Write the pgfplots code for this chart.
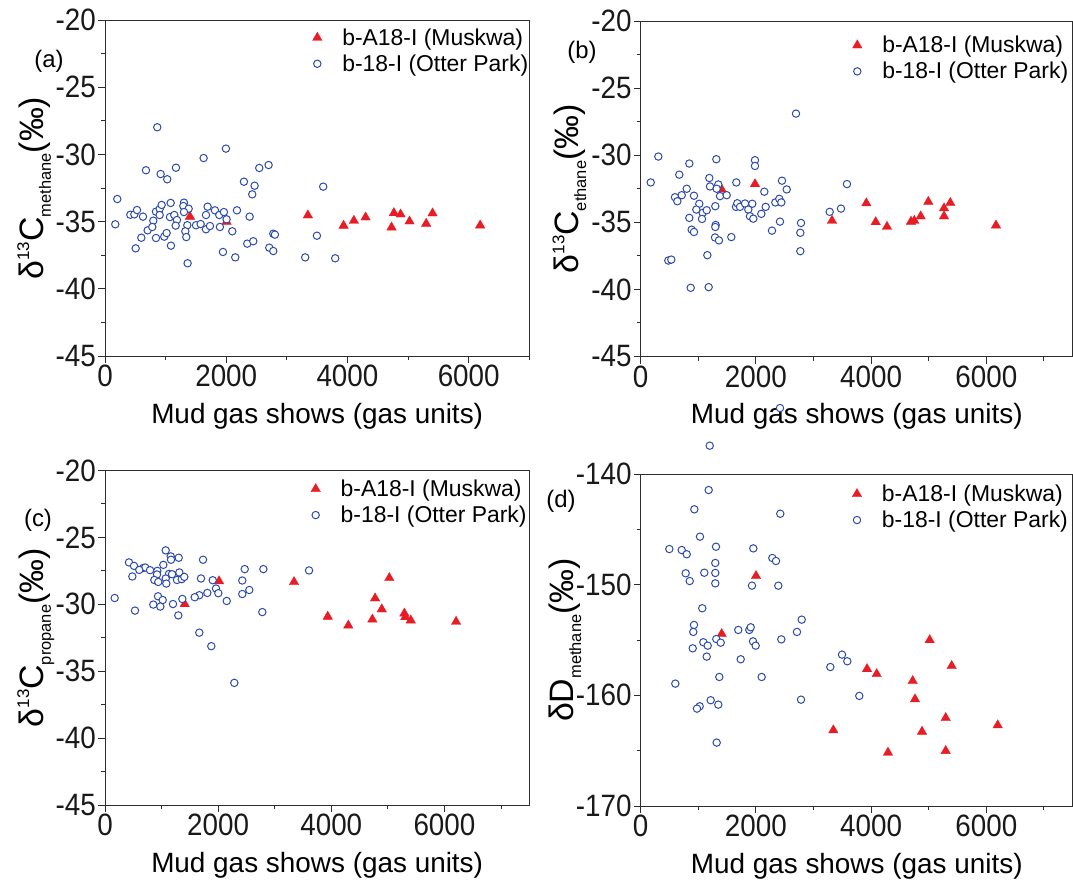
\documentclass[border=0pt]{standalone}
\usepackage{fontspec}
\setmainfont{Liberation Sans}
\newfontfamily\tickfont{Liberation Sans}[FakeStretch=0.9]
\usepackage{pgfplots}
\pgfplotsset{compat=1.18}
\definecolor{mred}{RGB}{232,28,36}
\definecolor{mblue}{RGB}{45,75,170}
\definecolor{axc}{RGB}{45,45,45}
\newcommand{\ylab}[2]{\fontsize{34}{34}\selectfont #1\raisebox{-0.22em}{\fontsize{16.5}{16.5}\selectfont #2}(‰)}
\pgfplotsset{
  panel/.style={
    scale only axis, clip=false,
    axis line style={axc, line width=1bp},
    every tick/.style={axc, line width=1bp},
    tick align=outside, tick pos=left,
    major tick length=7bp, minor tick length=4bp,
    ticklabel style={font=\tickfont\fontsize{31}{31}\selectfont, text=black!90},
    xticklabel style={inner sep=2bp},
    yticklabel style={inner sep=2bp},
    xlabel style={font=\fontsize{28}{28}\selectfont, at={(axis description cs:0.5,0)}, anchor=base, yshift=-67bp},
    xlabel={Mud gas shows (gas units)},
    xtick={0,2000,4000,6000}, xticklabels={0,2000,4000,6000},
    minor xtick={1000,3000,5000,7000},
    xmin=0,
    legend cell align=left,
    legend style={anchor=west, draw=none, fill=none, inner sep=0pt, outer sep=0pt,
      font=\fontsize{23}{23}\selectfont, row sep=8bp,
      nodes={inner sep=0bp},
      /tikz/every odd column/.style={column sep=15bp}},
    legend image code/.code={\path[draw=none,fill=none] (0bp,-6bp) rectangle (20bp,6bp);
      \draw[mark repeat=2,mark phase=2,##1] plot coordinates {(0bp,0bp)(10bp,0bp)(20bp,0bp)};},
  },
  cyax/.style={ymin=-45, ymax=-20, ytick={-45,-40,-35,-30,-25,-20},
    yticklabels={-45,-40,-35,-30,-25,-20}, minor ytick={-42.5,-37.5,-32.5,-27.5,-22.5}},
  tri/.style={only marks, mark=triangle*, mark size=5.5bp, color=mred, mark options={fill=mred, draw=mred, line width=0.3bp}},
  circ/.style={only marks, mark=*, mark size=3.7bp, color=mblue, mark options={draw=mblue, fill=white, line width=1bp}},
}
\begin{document}
\begin{tikzpicture}
\useasboundingbox (0,0) rectangle (1073bp,-884bp);
% (a)
\begin{axis}[panel, cyax, at={(105bp,-356bp)}, anchor=south west, width=424.3bp, height=336bp, xmax=7000,
  ylabel={\ylab{δ\raisebox{0.42em}{\fontsize{17}{17}\selectfont 13}C}{methane}},
  ylabel style={at={(axis description cs:-0.1454,0.5)}, anchor=base},
  legend style={at={(0.4768,0.9086)}}]
\addplot[tri] coordinates {(1402,-34.63)(2006,-35.0)(3347,-34.53)(3936,-35.3)(4106,-34.93)(4299,-34.68)(4727,-35.43)(4766,-34.36)(4876,-34.46)(5024,-34.98)(5299,-35.15)(5404,-34.38)(6189,-35.28)};
\addplot[circ] coordinates {(862,-27.98)(1995,-29.57)(1627,-30.27)(676,-31.18)(918,-31.46)(1171,-30.99)(1027,-31.85)(2545,-31.01)(2699,-30.79)(2292,-32.03)(2468,-32.33)(2429,-32.97)(3600,-32.40)(203,-33.32)(418,-34.49)(484,-34.46)(528,-34.14)(627,-34.63)(797,-34.93)(841,-34.26)(902,-34.06)(935,-33.76)(902,-34.51)(1083,-33.61)(1072,-34.66)(1143,-34.51)(1187,-34.88)(1303,-33.59)(1292,-33.84)(1380,-34.04)(1303,-34.29)(1693,-33.89)(1666,-34.51)(1814,-34.16)(1885,-34.51)(1962,-34.29)(2006,-34.83)(2177,-34.16)(2386,-34.63)(170,-35.20)(704,-35.65)(780,-35.40)(599,-36.20)(841,-36.22)(978,-36.12)(1017,-35.85)(1166,-35.30)(1358,-35.27)(1325,-35.72)(1341,-36.15)(1501,-35.27)(1578,-35.18)(1666,-35.57)(1732,-35.33)(1896,-35.40)(2100,-35.72)(506,-36.99)(1088,-36.79)(1363,-38.10)(1946,-37.26)(2149,-37.66)(2347,-36.64)(2446,-36.46)(2710,-36.94)(2776,-37.19)(2776,-35.90)(2803,-35.97)(3303,-37.66)(3496,-36.05)(3798,-37.73)};
\legend{b-A18-I (Muskwa),b-18-I (Otter Park)}
\end{axis}
% (b)
\begin{axis}[panel, cyax, at={(640.7bp,-356.5bp)}, anchor=south west, width=432bp, height=335.5bp, xmax=7500,
  ylabel={\ylab{δ\raisebox{0.42em}{\fontsize{17}{17}\selectfont 13}C}{ethane}},
  ylabel style={at={(axis description cs:-0.1435,0.5)}, anchor=base},
  legend style={at={(0.4782,0.8888)}}]
\addplot[tri] coordinates {(1406,-32.55)(1984,-32.15)(3321,-34.88)(3917,-33.58)(4080,-34.98)(4276,-35.33)(4693,-34.95)(4750,-34.88)(4861,-34.55)(4993,-33.47)(5266,-33.95)(5266,-34.55)(5375,-33.55)(6168,-35.23)};
\addplot[circ] coordinates {(2696,-26.90)(306,-30.10)(844,-30.62)(1313,-30.30)(1984,-30.37)(1984,-30.80)(174,-32.03)(670,-31.45)(1191,-31.70)(1203,-32.33)(1347,-32.18)(1319,-32.50)(1660,-32.03)(2453,-31.90)(2535,-32.55)(2146,-32.72)(799,-32.50)(712,-32.98)(595,-33.13)(636,-33.43)(925,-33.02)(1377,-33.05)(1493,-32.98)(1017,-33.62)(966,-34.05)(1076,-34.30)(1146,-34.10)(1295,-33.80)(844,-34.67)(1064,-34.75)(1654,-33.85)(1677,-33.58)(1724,-33.85)(1811,-33.60)(1937,-33.62)(1868,-34.05)(1897,-34.55)(1955,-34.73)(2094,-34.37)(2170,-33.85)(2337,-33.52)(2406,-33.25)(2441,-33.52)(2418,-34.95)(2279,-35.62)(1302,-35.20)(1295,-35.35)(885,-35.55)(925,-35.72)(1290,-36.13)(1359,-36.35)(1573,-36.10)(1157,-37.45)(479,-37.85)(531,-37.78)(868,-39.88)(1180,-39.83)(2783,-35.05)(2771,-35.78)(2771,-37.15)(3581,-32.15)(3477,-33.98)(3281,-34.22)};
\legend{b-A18-I (Muskwa),b-18-I (Otter Park)}
\end{axis}
% (c)
\begin{axis}[panel, cyax, at={(105bp,-805bp)}, anchor=south west, width=424.3bp, height=334.5bp, xmax=7500,
  ylabel={\ylab{δ\raisebox{0.42em}{\fontsize{17}{17}\selectfont 13}C}{propane}},
  ylabel style={at={(axis description cs:-0.1454,0.5)}, anchor=base},
  legend style={at={(0.473,0.9058)}}]
\addplot[tri] coordinates {(1409,-29.98)(2016,-28.27)(3341,-28.33)(3937,-30.92)(4301,-31.58)(4726,-31.13)(4774,-29.55)(4892,-30.37)(5026,-28.03)(5292,-30.68)(5309,-30.95)(5405,-31.20)(6206,-31.30)};
\addplot[circ] coordinates {(1073,-25.97)(1162,-26.42)(1303,-26.52)(1167,-26.67)(1733,-26.67)(424,-26.87)(1031,-27.05)(513,-27.13)(677,-27.28)(712,-27.25)(606,-27.43)(796,-27.45)(925,-27.50)(919,-27.77)(483,-27.92)(1132,-27.73)(1185,-27.75)(1314,-27.62)(1073,-28.07)(1273,-28.18)(1356,-28.12)(1402,-27.95)(872,-28.18)(942,-28.33)(1084,-28.45)(1697,-28.07)(1904,-28.20)(2470,-27.37)(2799,-27.37)(2427,-28.22)(2551,-28.93)(2427,-29.23)(1962,-28.82)(2003,-29.17)(1809,-29.15)(1667,-29.32)(1586,-29.47)(1367,-29.60)(2152,-29.75)(171,-29.53)(937,-29.40)(1020,-29.68)(854,-30.02)(978,-30.17)(1202,-29.98)(530,-30.47)(1296,-30.83)(2781,-30.58)(1667,-32.12)(1879,-33.13)(2286,-35.87)(3607,-27.47)};
\legend{b-A18-I (Muskwa),b-18-I (Otter Park)}
\end{axis}
% (d)
\begin{axis}[panel, at={(640.7bp,-806bp)}, anchor=south west, width=432bp, height=332bp, xmax=7500,
  ymin=-170, ymax=-140, ytick={-170,-160,-150,-140}, yticklabels={-170,-160,-150,-140}, minor ytick={-165,-155,-145},
  ylabel={\ylab{δD}{methane}},
  ylabel style={at={(axis description cs:-0.155,0.5)}, anchor=base},
  legend style={at={(0.4775,0.9006)}}]
\addplot[tri] coordinates {(1406,-154.45)(2002,-149.21)(3344,-163.15)(3929,-157.62)(4097,-158.07)(4293,-165.17)(4722,-158.70)(4762,-160.35)(4884,-163.28)(5017,-155.0)(5295,-162.04)(5295,-165.02)(5399,-157.34)(6198,-162.70)};
\addplot[circ] coordinates {(2418,-134.04)(1198,-137.44)(1180,-141.45)(931,-143.19)(2423,-143.59)(1029,-145.66)(497,-146.78)(712,-146.87)(799,-147.25)(1307,-146.57)(1955,-146.72)(2285,-147.59)(2349,-147.86)(1295,-148.04)(781,-148.97)(1104,-148.92)(1295,-148.94)(851,-149.67)(1295,-149.88)(1932,-150.09)(2389,-150.09)(1069,-152.13)(2795,-153.16)(925,-153.64)(913,-154.27)(2713,-154.27)(1694,-154.09)(1885,-154.09)(1910,-153.85)(1312,-154.91)(1389,-155.24)(1950,-155.12)(1996,-155.51)(2441,-154.94)(1087,-155.20)(1163,-155.51)(903,-155.75)(1146,-156.50)(1736,-156.74)(3495,-156.32)(601,-158.94)(1365,-158.34)(2100,-158.34)(2783,-160.39)(3292,-157.44)(3587,-156.92)(1215,-160.44)(1347,-160.84)(1024,-160.99)(977,-161.20)(1319,-164.27)(3795,-160.05)};
\legend{b-A18-I (Muskwa),b-18-I (Otter Park)}
\end{axis}
\node[font=\fontsize{24}{24}\selectfont] at (49bp,-61bp) {(a)};
\node[font=\fontsize{24}{24}\selectfont] at (582bp,-52bp) {(b)};
\node[font=\fontsize{24}{24}\selectfont] at (38bp,-520bp) {(c)};
\node[font=\fontsize{24}{24}\selectfont] at (561bp,-501bp) {(d)};
\end{tikzpicture}
\end{document}
